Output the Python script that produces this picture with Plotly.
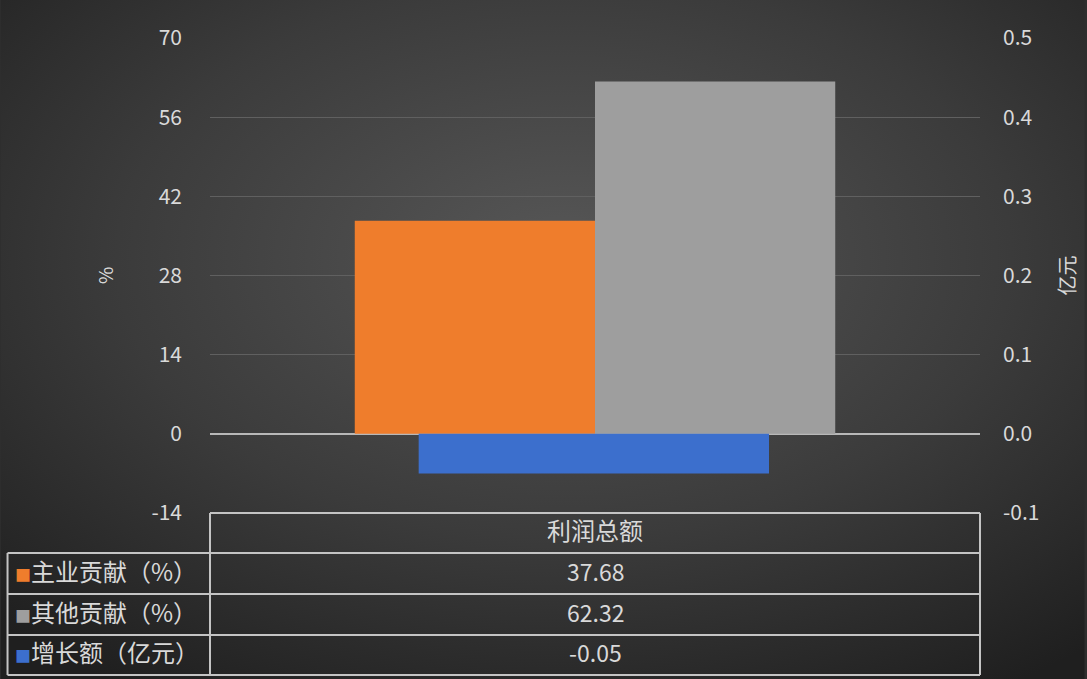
import base64
import plotly.graph_objects as go

categories = ["利润总额"]
main_share = [37.68]
other_share = [62.32]
growth = [-0.05]
series_names = ["主业贡献（%）", "其他贡献（%）", "增长额（亿元）"]
series_colors = ["#EF7D2C", "#9E9E9E", "#3C6FCD"]
left_ticks = [-14, 0, 14, 28, 42, 56, 70]
left_labels = ["-14", "0", "14", "28", "42", "56", "70"]
right_ticks = [-0.1, 0.0, 0.1, 0.2, 0.3, 0.4, 0.5]
right_labels = ["-0.1", "0.0", "0.1", "0.2", "0.3", "0.4", "0.5"]

W, H = 1087, 679
L, R, T, B = 210, 982, 38, 513
pw, ph = R - L, B - T

font = "Noto Sans CJK SC, Noto Sans, sans-serif"
txt = "#D9D9D9"
grid_line = "#C4C4C4"

# radial dark background as an svg image
svg = f"""<svg xmlns='http://www.w3.org/2000/svg' width='{W}' height='{H}'>
<defs><radialGradient id='g' cx='0.52' cy='0.38' r='0.75'>
<stop offset='0' stop-color='#575757'/><stop offset='0.55' stop-color='#3b3b3b'/>
<stop offset='1' stop-color='#1f1f1f'/></radialGradient></defs>
<rect width='{W}' height='{H}' fill='url(#g)'/></svg>"""
bg = "data:image/svg+xml;base64," + base64.b64encode(svg.encode()).decode()

fig = go.Figure()
fig.add_trace(go.Bar(x=categories, y=main_share, name=series_names[0],
                     marker=dict(color=series_colors[0], line=dict(width=0)),
                     offset=-0.312, width=0.312))
fig.add_trace(go.Bar(x=categories, y=other_share, name=series_names[1],
                     marker=dict(color=series_colors[1], line=dict(width=0)),
                     offset=0.0, width=0.312))
fig.add_trace(go.Bar(x=categories, y=growth, name=series_names[2], yaxis="y2",
                     marker=dict(color=series_colors[2], line=dict(width=0)),
                     offset=-0.229, width=0.455))

# table grid (pixel -> paper)
def px(x):
    return (x - L) / pw

def py(y):
    return 1 - (y - T) / ph

shapes = []
line = dict(color=grid_line, width=2)
row_y = [513, 553, 594, 635, 675]
shapes.append(dict(type="line", xref="paper", yref="paper", x0=px(L), x1=px(R), y0=py(513), y1=py(513), line=line))
for y in row_y[1:]:
    shapes.append(dict(type="line", xref="paper", yref="paper", x0=px(7), x1=px(R), y0=py(y), y1=py(y), line=line))
shapes.append(dict(type="line", xref="paper", yref="paper", x0=px(L), x1=px(L), y0=py(513), y1=py(675), line=line))
shapes.append(dict(type="line", xref="paper", yref="paper", x0=px(R), x1=px(R), y0=py(513), y1=py(675), line=line))
shapes.append(dict(type="line", xref="paper", yref="paper", x0=px(7), x1=px(7), y0=py(553), y1=py(675), line=line))

cfont = dict(family=font, size=24, color=txt)
nfont = dict(family=font, size=23, color=txt)
shift = -16
annotations = [dict(xref="paper", yref="paper", x=0.5, y=py(533), text=categories[0],
                    showarrow=False, yshift=shift, font=cfont)]
values = [f"{main_share[0]:.2f}", f"{other_share[0]:.2f}", f"{growth[0]:.2f}"]
for i, (name, col, val) in enumerate(zip(series_names, series_colors, values)):
    yc = py((row_y[i + 1] + row_y[i + 2]) / 2)
    annotations.append(dict(xref="paper", yref="paper", x=0.5, y=yc, text=val,
                            showarrow=False, yshift=shift, font=nfont))
    annotations.append(dict(xref="paper", yref="paper", x=px(12), y=yc, xanchor="left",
                            text=f"<span style='color:{col};font-size:16px'>■</span>{name}",
                            showarrow=False, yshift=shift, font=cfont))

fig.update_layout(
    width=W, height=H,
    margin=dict(l=L, r=W - R, t=T, b=H - B, pad=0),
    paper_bgcolor="#2e2e2e", plot_bgcolor="rgba(0,0,0,0)",
    barmode="overlay", showlegend=False,
    font=dict(family=font, color=txt, size=21),
    images=[dict(source=bg, xref="paper", yref="paper", x=-L / pw, y=1 + T / ph,
                 sizex=W / pw, sizey=H / ph, sizing="stretch", layer="below")],
    xaxis=dict(showticklabels=False, showgrid=False, zeroline=False, range=[-0.5, 0.5]),
    yaxis=dict(range=[-14, 70], tickvals=left_ticks, ticktext=left_labels,
               showgrid=True, gridcolor="#606060", gridwidth=1,
               zeroline=True, zerolinecolor="#B8B8B8", zerolinewidth=2,
               ticks="", ticklabelstandoff=27,
               title=dict(text="%", standoff=32, font=dict(size=19, color=txt))),
    yaxis2=dict(range=[-0.1, 0.5], tickvals=right_ticks, ticktext=right_labels,
                overlaying="y", side="right", showgrid=False, zeroline=False,
                ticklabelstandoff=22,
                title=dict(text="亿元", standoff=22, font=dict(size=20, color=txt))),
    shapes=shapes, annotations=annotations,
)

fig.write_html("out.html", config={"displayModeBar": False},
               post_script="document.body.style.margin='0';")
